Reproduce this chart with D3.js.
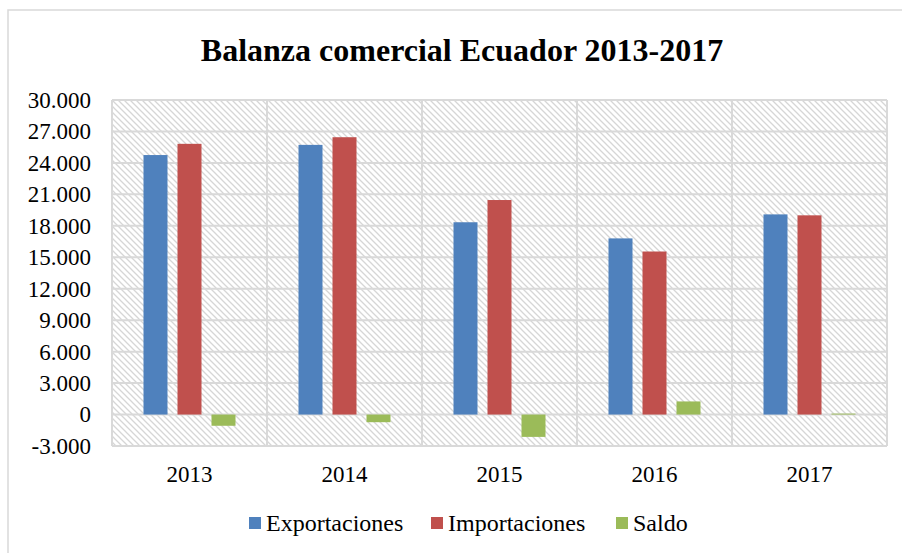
<!DOCTYPE html>
<html>
  <head>
    <meta charset="utf-8" />
    <style>
      body { margin: 0; background: #fff; }
      svg { display: block; }
      text { font-family: "Liberation Serif"; }
    </style>
  </head>
  <body>
    <svg id="chart" width="902" height="553"></svg>
    <script src="https://cdn.jsdelivr.net/npm/d3@7"></script>
    <script>
      const years = ["2013", "2014", "2015", "2016", "2017"];
      const seriesNames = ["Exportaciones", "Importaciones", "Saldo"];
      const exportaciones = [24750, 25720, 18340, 16800, 19090];
      const importaciones = [25820, 26450, 20460, 15550, 19000];
      const saldo = [-1070, -730, -2130, 1250, 90];
      const yTicks = [-3000, 0, 3000, 6000, 9000, 12000, 15000, 18000, 21000, 24000, 27000, 30000];
      const colors = ["#4f81bd", "#c0504d", "#9bbb59"];

      const values = [exportaciones, importaciones, saldo];
      const rows = years.map((y, i) => ({ year: y, vals: values.map(s => s[i]) }));

      const serif = "Liberation Serif";
      const svg = d3.select("#chart");
      const plot = { left: 112, right: 887, top: 100, bottom: 446 };

      // outer frame
      svg.append("rect")
        .attr("x", 8).attr("y", 10)
        .attr("width", 1000).attr("height", 1000)
        .attr("fill", "none").attr("stroke", "#d9d9d9").attr("stroke-width", 1.5);

      const defs = svg.append("defs");
      const pat = defs.append("pattern")
        .attr("id", "hatch")
        .attr("patternUnits", "userSpaceOnUse")
        .attr("width", 6).attr("height", 6);
      pat.append("rect").attr("width", 6).attr("height", 6).attr("fill", "#fff");
      pat.append("path")
        .attr("d", "M-1,-1 L7,7 M-1,5 L1,7 M5,-1 L7,1")
        .attr("stroke", "#d6d6d6").attr("stroke-width", 1.3);

      const x = d3.scaleBand().domain(years).range([plot.left, plot.right]);
      const y = d3.scaleLinear().domain([-3000, 30000]).range([plot.bottom, plot.top]);

      svg.append("rect")
        .attr("x", plot.left).attr("y", plot.top)
        .attr("width", plot.right - plot.left).attr("height", plot.bottom - plot.top)
        .attr("fill", "url(#hatch)");

      // grid
      const grid = svg.append("g").attr("stroke", "#d9d9d9").attr("stroke-width", 2);
      grid.selectAll("line.h").data(yTicks).join("line")
        .attr("x1", plot.left).attr("x2", plot.right)
        .attr("y1", d => y(d)).attr("y2", d => y(d));
      grid.selectAll("line.v").data(years.concat(["end"])).join("line")
        .attr("x1", d => d === "end" ? plot.right : x(d))
        .attr("x2", d => d === "end" ? plot.right : x(d))
        .attr("y1", plot.top).attr("y2", plot.bottom);
      grid.append("line")
        .attr("x1", plot.left).attr("x2", plot.right)
        .attr("y1", plot.bottom).attr("y2", plot.bottom);

      // bars
      const barW = 24, step = 34;
      const groups = svg.append("g").selectAll("g").data(rows).join("g")
        .attr("transform", d => `translate(${x(d.year) + x.bandwidth() / 2},0)`);
      groups.selectAll("rect").data(d => d.vals).join("rect")
        .attr("x", (d, i) => (i - 1) * step - barW / 2)
        .attr("width", barW)
        .attr("y", d => y(Math.max(0, d)))
        .attr("height", d => Math.abs(y(d) - y(0)))
        .attr("fill", (d, i) => colors[i]);

      // y axis labels
      const fmt = d => d3.format(",")(d).replace(/,/g, ".").replace("−", "-");
      const yAxis = svg.append("g")
        .attr("transform", `translate(${plot.left},0)`)
        .call(d3.axisLeft(y).tickValues(yTicks).tickFormat(fmt).tickSize(0).tickPadding(21));
      yAxis.attr("font-family", null).attr("font-size", null);
      yAxis.select(".domain").remove();
      yAxis.selectAll("text")
        .style("font-family", serif).style("font-size", "23px").attr("fill", "#000");

      // x axis labels
      const xAxis = svg.append("g")
        .attr("transform", `translate(0,${plot.bottom})`)
        .call(d3.axisBottom(x).tickSize(0).tickPadding(20));
      xAxis.attr("font-family", null).attr("font-size", null);
      xAxis.select(".domain").remove();
      xAxis.selectAll("text")
        .style("font-family", serif).style("font-size", "23px").attr("fill", "#000");

      // title
      svg.append("text")
        .attr("x", 462).attr("y", 61)
        .attr("text-anchor", "middle")
        .style("font-family", serif).style("font-size", "32px").style("font-weight", "bold")
        .text("Balanza comercial Ecuador 2013-2017");

      // legend
      const legendX = [249, 431, 616];
      const legend = svg.append("g").selectAll("g").data(seriesNames).join("g")
        .attr("transform", (d, i) => `translate(${legendX[i]},523)`);
      legend.append("rect")
        .attr("x", 0).attr("y", -6).attr("width", 12).attr("height", 12)
        .attr("fill", (d, i) => colors[i]);
      legend.append("text")
        .attr("x", 17).attr("y", 0).attr("dy", "0.35em")
        .style("font-family", serif).style("font-size", "24px")
        .text(d => d);
    </script>
  </body>
</html>
